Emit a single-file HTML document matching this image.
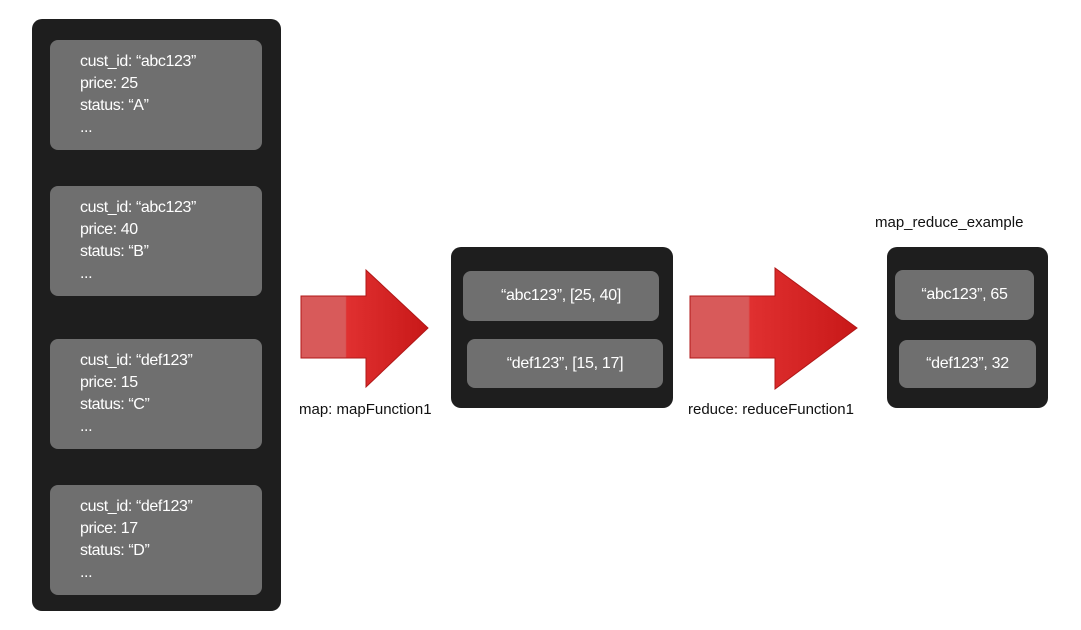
<!DOCTYPE html>
<html><head><style>
body{margin:0;width:1081px;height:630px;background:#fff;position:relative;font-family:"Liberation Sans",sans-serif;overflow:hidden}
.p{position:absolute;background:#1e1e1e;border-radius:10px}
.c{position:absolute;background:#6f6f6f;border-radius:8px;color:#fff;font-size:16px}
.c.doc{padding:11px 0 0 30px;box-sizing:border-box;line-height:22px;letter-spacing:-0.4px}
.c.kv{display:flex;align-items:center;justify-content:center;letter-spacing:-0.3px}
.l{position:absolute;font-size:15px;color:#111}
</style></head><body>
<div class="p" style="left:32px;top:19px;width:249px;height:592px"></div>
<div class="c doc" style="left:50px;top:40px;width:212px;height:110px">cust_id: “abc123”<br>price: 25<br>status: “A”<br>...</div>
<div class="c doc" style="left:50px;top:186px;width:212px;height:110px">cust_id: “abc123”<br>price: 40<br>status: “B”<br>...</div>
<div class="c doc" style="left:50px;top:339px;width:212px;height:110px">cust_id: “def123”<br>price: 15<br>status: “C”<br>...</div>
<div class="c doc" style="left:50px;top:485px;width:212px;height:110px">cust_id: “def123”<br>price: 17<br>status: “D”<br>...</div>

<div class="p" style="left:451px;top:247px;width:222px;height:161px"></div>
<div class="c kv" style="left:463px;top:271px;width:196px;height:50px">“abc123”, [25, 40]</div>
<div class="c kv" style="left:467px;top:339px;width:196px;height:49px">“def123”, [15, 17]</div>

<div class="l" style="left:875px;top:214px">map_reduce_example</div>
<div class="p" style="left:887px;top:247px;width:161px;height:161px"></div>
<div class="c kv" style="left:895px;top:270px;width:139px;height:50px">“abc123”, 65</div>
<div class="c kv" style="left:899px;top:340px;width:137px;height:48px">“def123”, 32</div>

<svg width="1081" height="630" style="position:absolute;left:0;top:0">
<defs><linearGradient id="g" x1="0" x2="1"><stop offset="0" stop-color="#d85a5a"/><stop offset="0.35" stop-color="#d85a5a"/><stop offset="0.36" stop-color="#e03030"/><stop offset="1" stop-color="#c81818"/></linearGradient></defs>
<polygon points="301,296 366,296 366,270 428,328 366,387 366,358 301,358" fill="url(#g)" stroke="#b01818"/>
<polygon points="690,296 775,296 775,268 857,328 775,389 775,358 690,358" fill="url(#g)" stroke="#b01818"/>
</svg>
<div class="l" style="left:299px;top:401px">map: mapFunction1</div>
<div class="l" style="left:688px;top:401px">reduce: reduceFunction1</div>
</body></html>
